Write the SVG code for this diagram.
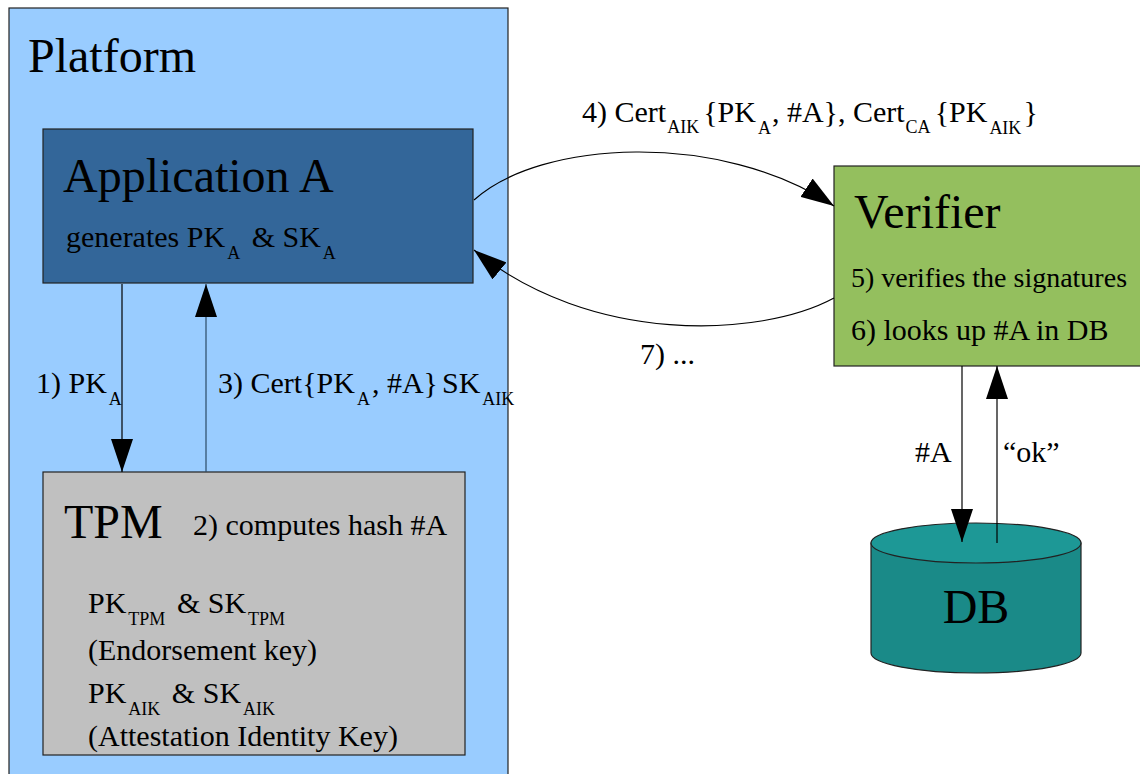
<svg xmlns="http://www.w3.org/2000/svg" width="1140" height="774" viewBox="0 0 1140 774">
<style>
text{font-family:"Liberation Serif","Times New Roman",serif;fill:#000}
.t{font-size:30px}
.big{font-size:48px}
.s{font-size:18px}
.box{stroke:#222;stroke-width:1.2}
.ln{fill:none;stroke:#000;stroke-width:1.2}
</style>
<defs>
<marker id="ah" markerUnits="userSpaceOnUse" markerWidth="34" markerHeight="22" refX="33" refY="11" orient="auto">
<path d="M0,0 L33,11 L0,22 z" fill="#000"/>
</marker>
</defs>
<g id="platform">
<rect x="9" y="8" width="499" height="790" fill="#99ccff" class="box"/>
<text x="28" y="72" class="big">Platform</text>
</g>
<g id="application">
<rect x="43" y="129" width="430" height="154" fill="#336699" class="box"/>
<text x="63" y="192" class="big">Application A</text>
<text x="66" y="247" class="t">generates PK<tspan dx="2" dy="12" class="s">A</tspan><tspan dx="4" dy="-12"> &amp; SK</tspan><tspan dx="2" dy="12" class="s">A</tspan></text>
</g>
<g id="tpm">
<rect x="43" y="472" width="422" height="283" fill="#c0c0c0" class="box"/>
<text x="64" y="538" class="big">TPM</text>
<text x="193" y="535" class="t">2) computes hash #A</text>
<text x="88" y="613" class="t">PK<tspan dx="2" dy="12" class="s">TPM</tspan><tspan dx="4" dy="-12"> &amp; SK</tspan><tspan dx="2" dy="12" class="s">TPM</tspan></text>
<text x="88" y="660" class="t">(Endorsement key)</text>
<text x="88" y="703" class="t">PK<tspan dx="2" dy="12" class="s">AIK</tspan><tspan dx="4" dy="-12"> &amp; SK</tspan><tspan dx="2" dy="12" class="s">AIK</tspan></text>
<text x="88" y="746" class="t">(Attestation Identity Key)</text>
</g>
<g id="verifier">
<rect x="834" y="166" width="320" height="200" fill="#94bf5e" class="box"/>
<text x="854" y="228" class="big">Verifier</text>
<text x="851" y="287" style="font-size:28px">5) verifies the signatures</text>
<text x="851" y="340" class="t">6) looks up #A in DB</text>
</g>
<g id="db">
<path d="M871,543 L871,653 A105,20 0 0,0 1081,653 L1081,543 z" fill="#1a8a88" class="box"/>
<ellipse cx="976" cy="543" rx="105" ry="20" fill="#1d9896" class="box"/>
<text x="976" y="623" class="big" text-anchor="middle">DB</text>
</g>
<g id="connectors">
<line x1="122" y1="284" x2="122" y2="472" class="ln" marker-end="url(#ah)"/>
<line x1="206" y1="472" x2="206" y2="284" class="ln" style="stroke:#2a4a66" marker-end="url(#ah)"/>
<path d="M474,200 C540,140 720,130 834,206" class="ln" marker-end="url(#ah)"/>
<path d="M834,298 C760,338 590,345 474,250" class="ln" marker-end="url(#ah)"/>
<line x1="962" y1="366" x2="962" y2="542" class="ln" marker-end="url(#ah)"/>
<line x1="997" y1="543" x2="997" y2="366" class="ln" marker-end="url(#ah)"/>
<text x="36" y="393" class="t">1) PK<tspan dx="2" dy="12" class="s">A</tspan></text>
<text x="218" y="393" class="t">3) Cert{PK<tspan dx="2" dy="12" class="s">A</tspan><tspan dx="2" dy="-12">, #A}</tspan><tspan dx="4">SK</tspan><tspan dx="2" dy="12" class="s">AIK</tspan></text>
<text x="582" y="122" class="t">4) Cert<tspan dx="1" dy="11" class="s">AIK</tspan><tspan dx="4" dy="-11">{PK</tspan><tspan dx="2" dy="12" class="s">A</tspan><tspan dx="1" dy="-12">, #A}, Cert</tspan><tspan dx="1" dy="11" class="s">CA</tspan><tspan dx="4" dy="-11">{PK</tspan><tspan dx="2" dy="12" class="s">AIK</tspan><tspan dx="2" dy="-12">}</tspan></text>
<text x="640" y="364" class="t">7) ...</text>
<text x="915" y="462" class="t">#A</text>
<text x="1003" y="462" class="t">“ok”</text>
</g>
</svg>
